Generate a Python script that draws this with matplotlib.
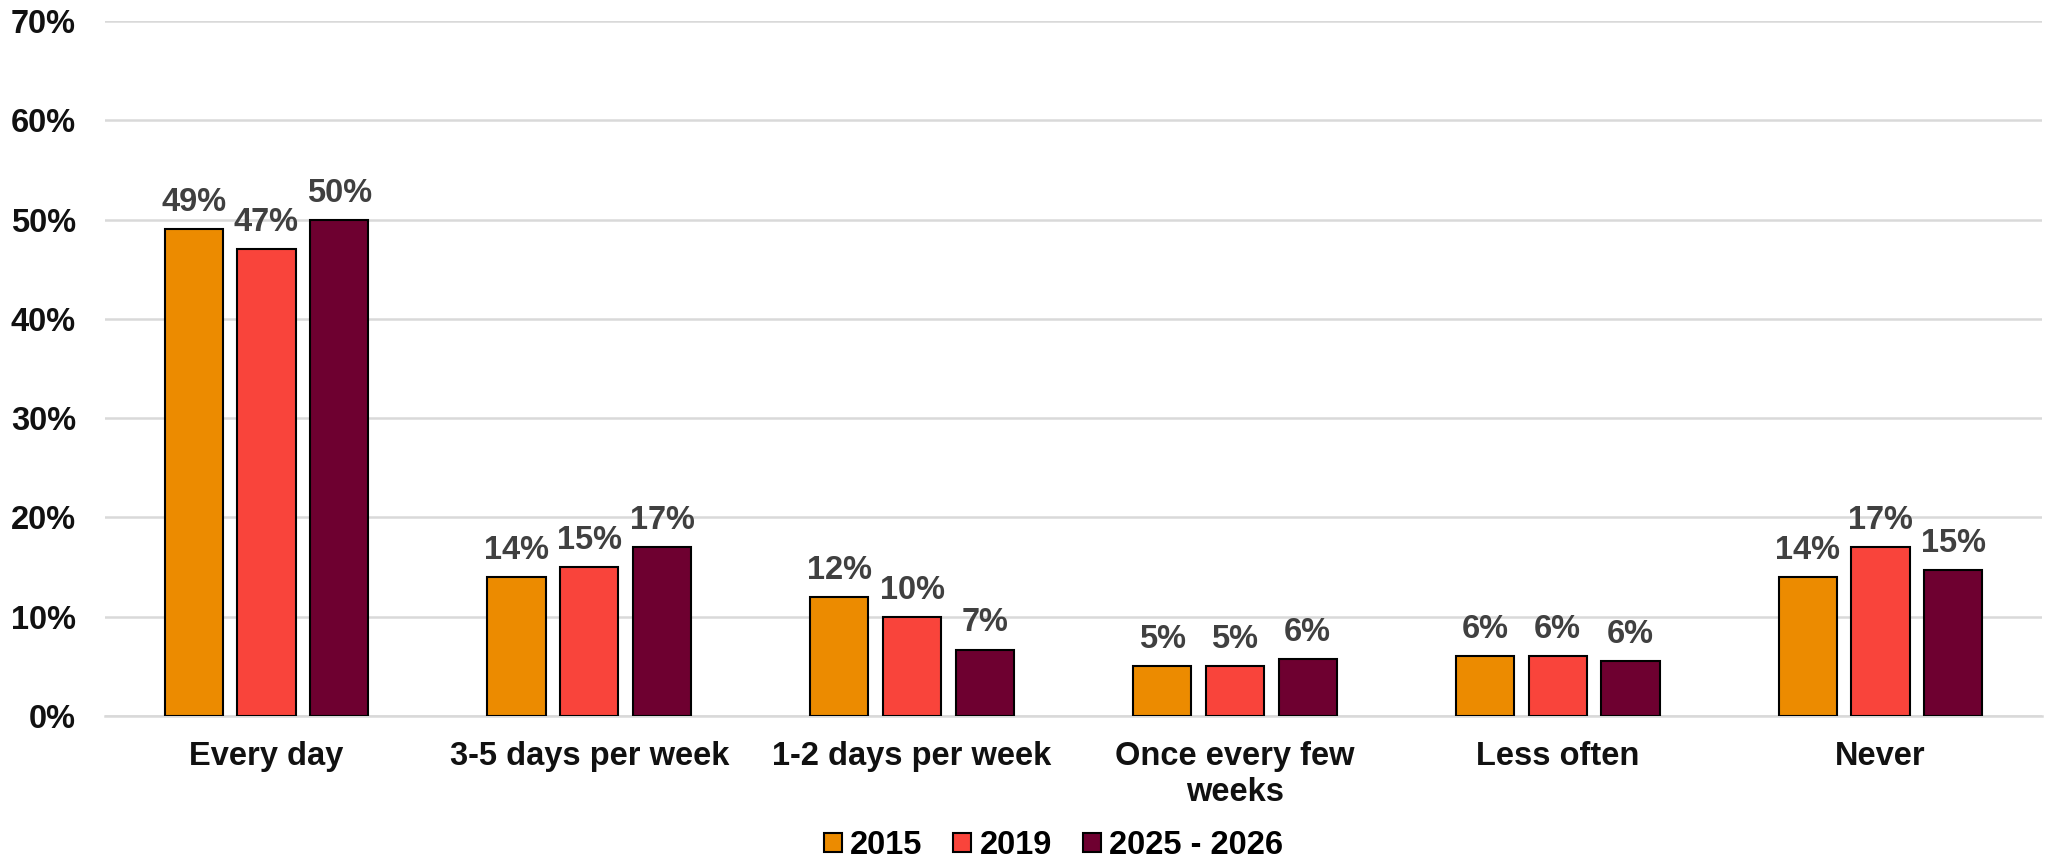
import numpy as np
import matplotlib
matplotlib.use('Agg')
import matplotlib.pyplot as plt
from matplotlib.patches import Patch

# data (percent)
categories = ['Every day', '3-5 days per week', '1-2 days per week',
              'Once every few\nweeks', 'Less often', 'Never']
series = ['2015', '2019', '2025 - 2026']
v2015 = [49.0, 14.0, 12.0, 5.0, 6.0, 14.0]
v2019 = [47.0, 15.0, 10.0, 5.0, 6.0, 17.0]
v2025 = [50.0, 17.0, 6.7, 5.7, 5.5, 14.7]
yticks = [0, 10, 20, 30, 40, 50, 60, 70]

colors = ['#EC8B00', '#F9443B', '#6E0030']

plt.rcParams['font.family'] = ['Liberation Sans', 'DejaVu Sans']
plt.rcParams['font.weight'] = 'bold'

fig = plt.figure(figsize=(20.68, 8.63), dpi=100)
ax = fig.add_axes([0.0508, 0.1703, 0.9366, 0.8054])

fs = 23.5
x = np.arange(len(categories))
w = 0.18
off = 0.2254
for i, (vals, c) in enumerate(zip([v2015, v2019, v2025], colors)):
    pos = x + (i - 1) * off
    ax.bar(pos, vals, width=w, color=c, edgecolor='black', linewidth=1.5, zorder=3)
    for px, v in zip(pos, vals):
        ax.annotate(f'{round(v)}%', (px, v), xytext=(0, 13), textcoords='offset points',
                    ha='center', va='baseline', fontsize=fs, fontweight='bold',
                    color='#404040', zorder=4)

ax.set_xlim(-0.5, len(categories) - 0.5)
ax.set_ylim(0, 70)
ax.set_yticks(yticks)
ax.set_yticklabels([f'{t}%' for t in yticks], fontsize=fs, fontweight='bold', color='#111111')
ax.set_xticks(x)
ax.set_xticklabels(categories, fontsize=fs, fontweight='bold', color='#111111',
                   linespacing=1.2)
ax.tick_params(axis='y', length=0, pad=21)
ax.tick_params(axis='x', length=0, pad=18)
ax.grid(axis='y', color='#d9d9d9', linewidth=1.8, zorder=0)
for s in ['top', 'right', 'left']:
    ax.spines[s].set_visible(False)
ax.spines['bottom'].set_color('#d9d9d9')
ax.spines['bottom'].set_linewidth(1.8)

handles = [Patch(facecolor=c, edgecolor='black', linewidth=1.5) for c in colors]
fig.legend(handles, series, loc='lower center', bbox_to_anchor=(0.5094, -0.032), ncol=3,
           frameon=False, handlelength=0.55, handleheight=0.5,
           handletextpad=0.25, columnspacing=0.95, prop={'weight': 'bold', 'size': fs})

fig.savefig('out.png', dpi=100, facecolor='white')
